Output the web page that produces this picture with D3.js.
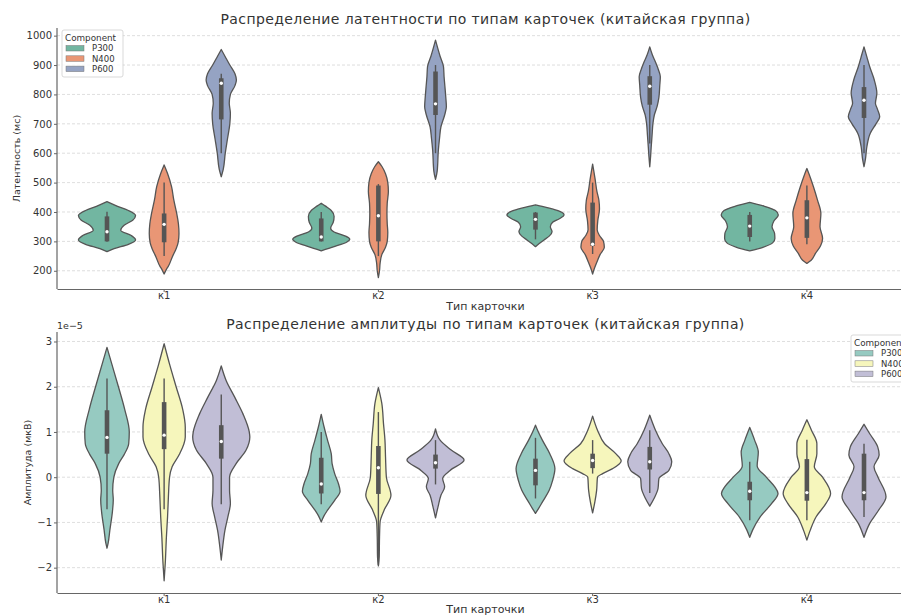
<!DOCTYPE html>
<html><head><meta charset="utf-8">
<script src="https://cdn.jsdelivr.net/npm/d3@7/dist/d3.min.js"></script>
<style>
body{margin:0;background:#fff}
svg{display:block;font-family:"DejaVu Sans",sans-serif}
</style>
</head><body>
<svg id="chart" width="901" height="615"></svg>
<script>
// ---------------- DATA ----------------
const categories = ["к1", "к2", "к3", "к4"];
const components = ["P300", "N400", "P600"];
const latencyTicks = [200, 300, 400, 500, 600, 700, 800, 900, 1000];
const amplitudeTicks = [-2, -1, 0, 1, 2, 3];   // in units of 1e-5
const amplitudeTickLabels = ["−2", "−1", "0", "1", "2", "3"];

// Violin outlines: [value, relative density] per card type (к1..к4)
const latP300Profiles = [
  [[265,0],[275,0.25],[290,0.75],[305,1.0],[320,0.85],[338,0.48],[355,0.6],[372,0.9],[388,1.0],[405,0.75],[420,0.35],[435,0]],
  [[268,0],[282,0.45],[298,0.9],[307,1.0],[318,0.85],[332,0.45],[345,0.33],[365,0.42],[385,0.45],[405,0.35],[420,0.15],[430,0]],
  [[282,0],[292,0.12],[305,0.3],[318,0.48],[333,0.58],[350,0.52],[365,0.6],[378,0.85],[390,1.0],[402,0.85],[414,0.45],[424,0]],
  [[268,0],[280,0.46],[295,0.8],[310,0.88],[327,0.87],[350,0.78],[370,0.85],[390,1.0],[405,0.9],[420,0.5],[433,0]]
];
const latN400Profiles = [
  [[189,0],[205,0.08],[214,0.14],[248,0.29],[275,0.42],[296,0.49],[327,0.52],[360,0.5],[395,0.44],[440,0.34],[486,0.26],[531,0.12],[560,0]],
  [[177,0],[200,0.04],[225,0.06],[255,0.12],[280,0.25],[300,0.31],[330,0.33],[360,0.31],[395,0.3],[430,0.31],[470,0.35],[500,0.33],[530,0.25],[554,0.13],[571,0]],
  [[189,0],[210,0.07],[230,0.15],[255,0.26],[280,0.41],[300,0.38],[320,0.24],[340,0.16],[370,0.18],[410,0.24],[440,0.22],[470,0.15],[510,0.09],[540,0.04],[563,0]],
  [[225,0],[236,0.15],[259,0.3],[285,0.48],[310,0.55],[350,0.46],[395,0.49],[441,0.37],[486,0.23],[520,0.11],[548,0]]
];
const latP600Profiles = [
  [[520,0],[545,0.07],[600,0.14],[650,0.22],[700,0.3],[736,0.32],[770,0.28],[800,0.32],[830,0.48],[849,0.53],[870,0.48],[900,0.3],[930,0.13],[953,0]],
  [[511,0],[540,0.06],[611,0.1],[650,0.14],[690,0.19],[730,0.32],[758,0.38],[790,0.36],[826,0.33],[860,0.3],[894,0.28],[930,0.16],[960,0.07],[985,0]],
  [[554,0],[590,0.03],[620,0.05],[660,0.08],[700,0.11],[730,0.16],[760,0.26],[790,0.32],[830,0.35],[860,0.37],[885,0.3],[910,0.2],[935,0.09],[962,0]],
  [[554,0],[580,0.05],[622,0.1],[668,0.22],[700,0.42],[724,0.55],[750,0.47],[770,0.4],[804,0.45],[849,0.36],[894,0.2],[928,0.1],[962,0]]
];
// Inner box: [whisker low, q1, median, q3, whisker high]
const latP300Box = [[299,300,333,385,401],[300,300,315,378,400],[307,340,375,398,400],[300,315,352,390,400]];
const latN400Box = [[250,297,358,395,500],[250,300,387,490,495],[257,285,290,432,500],[290,312,380,440,490]];
const latP600Box = [[600,715,838,855,870],[600,730,768,878,900],[633,765,828,862,900],[600,720,780,825,900]];

const ampP300Profiles = [
  [[-1.57,0],[-1.46,0.04],[-1.17,0.1],[-0.76,0.19],[-0.5,0.22],[-0.29,0.2],[0,0.24],[0.3,0.41],[0.5,0.6],[0.74,0.76],[1.0,0.78],[1.5,0.62],[2.0,0.4],[2.5,0.17],[2.87,0]],
  [[-0.99,0],[-0.85,0.1],[-0.73,0.22],[-0.51,0.47],[-0.31,0.66],[-0.14,0.6],[0.08,0.47],[0.3,0.38],[0.52,0.35],[0.82,0.22],[1.11,0.1],[1.39,0]],
  [[-0.8,0],[-0.7,0.1],[-0.54,0.25],[-0.29,0.48],[-0.07,0.6],[0.19,0.68],[0.52,0.5],[0.82,0.24],[1.0,0.1],[1.15,0]],
  [[-1.33,0],[-1.17,0.1],[-0.88,0.36],[-0.58,0.77],[-0.36,0.99],[-0.21,0.87],[0,0.58],[0.25,0.26],[0.55,0.3],[0.82,0.17],[1.1,0]]
];
const ampN400Profiles = [
  [[-2.29,0],[-1.9,0.04],[-1.32,0.08],[-0.88,0.12],[-0.43,0.15],[0,0.19],[0.23,0.28],[0.5,0.53],[0.89,0.74],[1.11,0.74],[1.5,0.65],[2.0,0.42],[2.5,0.19],[2.95,0]],
  [[-1.96,0],[-1.76,0.03],[-1.32,0.04],[-0.99,0.06],[-0.73,0.2],[-0.4,0.44],[0,0.28],[0.45,0.25],[0.82,0.23],[1.18,0.18],[1.63,0.12],[1.98,0]],
  [[-0.79,0],[-0.54,0.08],[-0.29,0.14],[0,0.17],[0.08,0.35],[0.19,0.7],[0.36,1.0],[0.52,0.81],[0.74,0.42],[1.04,0.17],[1.35,0]],
  [[-1.39,0],[-1.17,0.12],[-0.88,0.32],[-0.58,0.67],[-0.36,0.83],[0,0.55],[0.23,0.26],[0.52,0.35],[0.74,0.35],[1.04,0.16],[1.27,0]]
];
const ampP600Profiles = [
  [[-1.83,0],[-1.54,0.05],[-1.17,0.13],[-0.88,0.23],[-0.58,0.32],[-0.29,0.29],[0,0.29],[0.3,0.52],[0.6,0.87],[0.89,1.0],[1.0,0.98],[1.4,0.76],[1.77,0.47],[2.14,0.17],[2.46,0]],
  [[-0.9,0],[-0.65,0.09],[-0.4,0.19],[-0.21,0.32],[-0.03,0.25],[0.15,0.51],[0.38,1.0],[0.6,0.55],[0.82,0.16],[1.07,0]],
  [[-0.64,0],[-0.47,0.15],[-0.25,0.29],[-0.03,0.32],[0.15,0.67],[0.34,0.77],[0.52,0.67],[0.74,0.44],[1.04,0.2],[1.37,0]],
  [[-1.33,0],[-1.02,0.2],[-0.73,0.51],[-0.43,0.77],[0,0.49],[0.23,0.35],[0.49,0.53],[0.67,0.48],[0.96,0.2],[1.17,0]]
];
const ampP300Box = [[-0.71,0.52,0.88,1.48,2.18],[-0.6,-0.36,-0.15,0.43,1.0],[-0.47,-0.18,0.15,0.41,0.87],[-0.95,-0.51,-0.31,-0.1,0.34]];
const ampN400Box = [[-0.71,0.62,0.93,1.66,2.18],[-1.94,-0.37,0.21,0.69,1.44],[0.08,0.2,0.37,0.52,0.82],[-0.95,-0.52,-0.34,0.4,0.83]];
const ampP600Box = [[-0.6,0.41,0.79,1.15,1.83],[-0.16,0.19,0.32,0.5,0.82],[-0.35,0.17,0.34,0.67,1.04],[-0.88,-0.51,-0.34,0.52,0.74]];

const set2 = ["#66c2a5", "#fc8d62", "#8da0cb"];
const set3 = ["#8dd3c7", "#ffffb3", "#bebada"];

// ---------------- DRAWING ----------------
const svg = d3.select("#chart");
const desat = (hex, s) => { const c = d3.hsl(hex); c.s *= s; return c.formatHex(); };
const LINE = "#555555";
const TEXT = "#333333";

const x = d3.scaleBand().domain(categories).range([57, 914]).padding(0);
const hue = d3.scaleBand().domain(components).range([x.bandwidth() * 0.1, x.bandwidth() * 0.9]);
const w = d3.scaleLinear().domain([0, 1]).range([0, hue.bandwidth() / 2]);

function panel(cfg) {
  const g = svg.append("g");
  const y = d3.scaleLinear().domain(cfg.yDomain).range([cfg.bottom, cfg.top]);
  const colors = cfg.palette.map(c => desat(c, 0.75));

  // grid
  g.append("g").selectAll("line").data(cfg.ticks).join("line")
    .attr("x1", x.range()[0]).attr("x2", x.range()[1])
    .attr("y1", d => y(d)).attr("y2", d => y(d))
    .attr("stroke", "#d6d6d6").attr("stroke-width", 0.8).attr("stroke-dasharray", "3,2");

  // violins
  cfg.profiles.forEach((profs, ci) => {
    const comp = components[ci];
    profs.forEach((prof, ki) => {
      const cx = x(categories[ki]) + hue(comp) + hue.bandwidth() / 2;
      const area = d3.area().curve(d3.curveMonotoneY)
        .y(d => y(d[0])).x0(d => cx - w(d[1])).x1(d => cx + w(d[1]));
      g.append("path").datum(prof).attr("d", area)
        .attr("fill", colors[ci]).attr("stroke", LINE).attr("stroke-width", 1.3)
        .attr("stroke-linejoin", "round");
      const b = cfg.boxes[ci][ki];
      g.append("line").attr("x1", cx).attr("x2", cx).attr("y1", y(b[0])).attr("y2", y(b[4]))
        .attr("stroke", LINE).attr("stroke-width", 1.4);
      g.append("line").attr("x1", cx).attr("x2", cx).attr("y1", y(b[1])).attr("y2", y(b[3]))
        .attr("stroke", LINE).attr("stroke-width", 4.6);
      g.append("circle").attr("cx", cx).attr("cy", y(b[2])).attr("r", 1.7).attr("fill", "#fff");
    });
  });

  // axes
  const ya = g.append("g").attr("transform", "translate(57,0)")
    .call(d3.axisLeft(y).tickValues(cfg.ticks).tickFormat((d, i) => cfg.tickLabels[i]).tickSize(3).tickSizeOuter(0).tickPadding(2));
  const xa = g.append("g").attr("transform", `translate(0,${cfg.bottom})`)
    .call(d3.axisBottom(x).tickSize(3).tickSizeOuter(0).tickPadding(0));
  [ya, xa].forEach(a => {
    a.select(".domain").attr("stroke", "#666").attr("stroke-width", 1.2);
    a.selectAll(".tick line").attr("stroke", "#666");
    a.selectAll(".tick text").attr("fill", TEXT).attr("font-size", 10).attr("font-family", "DejaVu Sans");
  });
  ya.select(".domain").attr("d", `M0,${cfg.bottom}V${cfg.top}`);

  // titles / labels
  g.append("text").attr("x", 485.5).attr("y", cfg.titleY).attr("text-anchor", "middle")
    .attr("font-size", 14).attr("fill", TEXT).attr("letter-spacing", 0.4).text(cfg.title);
  g.append("text").attr("x", 485.5).attr("y", cfg.xlabelY).attr("text-anchor", "middle")
    .attr("font-size", 11).attr("fill", TEXT).text("Тип карточки");
  g.append("text").attr("transform", `translate(${cfg.ylabelX},${(cfg.top + cfg.bottom) / 2}) rotate(-90)`)
    .attr("text-anchor", "middle").attr("font-size", 9.5).attr("fill", TEXT).text(cfg.ylabel);
  if (cfg.offsetText) {
    g.append("text").attr("x", 57).attr("y", cfg.top - 3).attr("font-size", 9.5).attr("fill", TEXT).text(cfg.offsetText);
  }

  // legend
  const L = cfg.legend;
  const lg = g.append("g").attr("transform", `translate(${L.x},${L.y})`);
  lg.append("rect").attr("width", 61).attr("height", 47).attr("rx", 2)
    .attr("fill", "#fff").attr("fill-opacity", 0.8).attr("stroke", "#cfcfcf").attr("stroke-width", 0.8);
  lg.append("text").attr("x", 3).attr("y", 11).attr("font-size", 8.8).attr("fill", TEXT).text("Component");
  components.forEach((c, i) => {
    lg.append("rect").attr("x", 4).attr("y", 15.5 + i * 10.3).attr("width", 18).attr("height", 5.5)
      .attr("fill", colors[i]).attr("stroke", "#777").attr("stroke-width", 0.5);
    lg.append("text").attr("x", 30).attr("y", 21.3 + i * 10.3).attr("font-size", 8.5).attr("fill", TEXT).text(c);
  });
}

panel({
  top: 28, bottom: 289, yDomain: [138, 1026],
  ticks: latencyTicks, tickLabels: latencyTicks.map(String),
  profiles: [latP300Profiles, latN400Profiles, latP600Profiles],
  boxes: [latP300Box, latN400Box, latP600Box],
  palette: set2,
  title: "Распределение латентности по типам карточек (китайская группа)", titleY: 24,
  xlabelY: 310, ylabel: "Латентность (мс)", ylabelX: 20,
  legend: { x: 62, y: 30 }
});
panel({
  top: 332, bottom: 593, yDomain: [-2.56, 3.21],
  ticks: amplitudeTicks, tickLabels: amplitudeTickLabels,
  profiles: [ampP300Profiles, ampN400Profiles, ampP600Profiles],
  boxes: [ampP300Box, ampN400Box, ampP600Box],
  palette: set3,
  title: "Распределение амплитуды по типам карточек (китайская группа)", titleY: 329,
  xlabelY: 613, ylabel: "Амплитуда (мкВ)", ylabelX: 31,
  offsetText: "1e−5",
  legend: { x: 851, y: 335 }
});
</script>
</body></html>
